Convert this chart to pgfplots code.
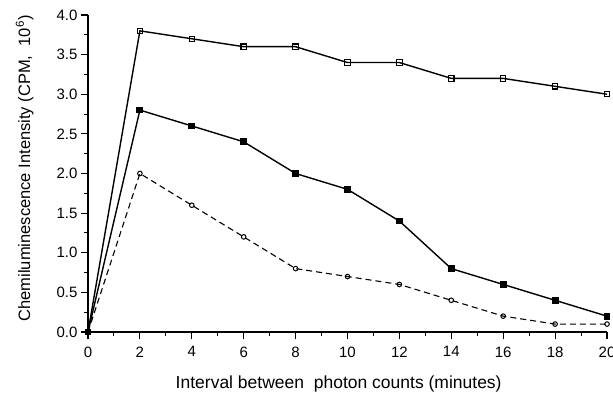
\documentclass[border=0pt]{standalone}
\usepackage{pgfplots}
\pgfplotsset{compat=1.18}
\usepackage{fontspec}
\setmainfont{Liberation Sans}
\begin{document}
\begin{tikzpicture}[x=1pt,y=1pt]
\path[use as bounding box] (-88pt,-64pt) rectangle (525pt,332pt);
\begin{axis}[
  at={(0,0)}, anchor=south west,
  scale only axis, width=519pt, height=317pt,
  xmin=0, xmax=20, ymin=0, ymax=4.0,
  axis x line*=bottom, axis y line*=left,
  axis line style={line width=1.3pt},
  xtick={0,2,...,20}, minor xtick={1,3,...,19},
  ytick={0,0.5,...,4.0}, minor ytick={0.25,0.75,...,3.75},
  tick align=outside,
  major tick length=7pt, minor tick length=4pt,
  tick style={line width=1.1pt, black},
  yticklabel style={/pgf/number format/.cd, fixed, fixed zerofill, precision=1},
  /pgf/number format/assume math mode=true,
  ticklabel style={font=\fontsize{15}{17}\selectfont},
  xticklabel style={yshift=-4pt},
  xlabel={Interval between\ \ photon counts (minutes)},
  ylabel={Chemiluminescence Intensity (CPM,\ \ 10\textsuperscript{6})},
  label style={font=\fontsize{16.5}{18}\selectfont},
  xlabel style={at={(axis description cs:0.483,0)}, anchor=north, yshift=-40pt, font=\fontsize{17.5}{19}\selectfont},
  ylabel style={at={(axis description cs:0,0.516)}, anchor=south, yshift=51pt},
  clip=false,
]
\addplot[black, line width=1.4pt, mark=square, mark size=2.7pt, mark options={solid, fill=white, line width=1.1pt}] coordinates {
 (0,0) (2,3.8) (4,3.7) (6,3.6) (8,3.6) (10,3.4) (12,3.4) (14,3.2) (16,3.2) (18,3.1) (20,3.0)};
\addplot[black, line width=1.4pt, mark=square*, mark size=2.7pt, mark options={solid, fill=black}] coordinates {
 (0,0) (2,2.8) (4,2.6) (6,2.4) (8,2.0) (10,1.8) (12,1.4) (14,0.8) (16,0.6) (18,0.4) (20,0.2)};
\addplot[black, line width=1.1pt, dash pattern=on 6pt off 4pt, mark=o, mark size=2.3pt, mark options={solid, fill=white, line width=1pt}] coordinates {
 (0,0) (2,2.0) (4,1.6) (6,1.2) (8,0.8) (10,0.7) (12,0.6) (14,0.4) (16,0.2) (18,0.1) (20,0.1)};
\end{axis}
\end{tikzpicture}
\end{document}
